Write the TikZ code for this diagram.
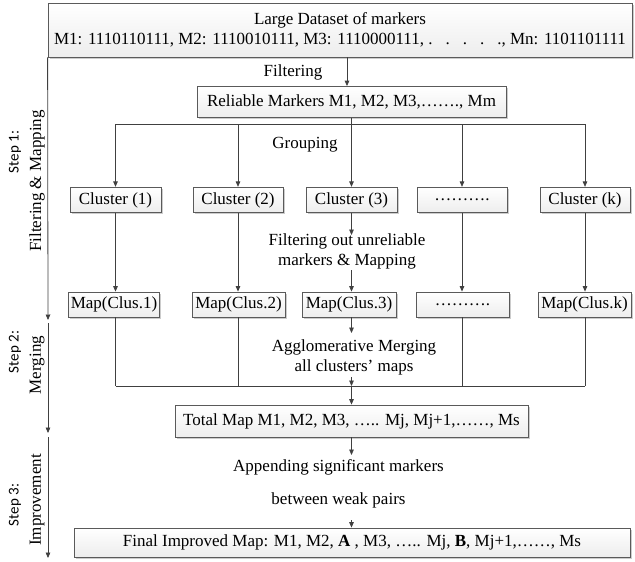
\documentclass[tikz,border=0pt]{standalone}
\usepackage{fontspec}
\setmainfont{Liberation Serif}
\newfontfamily\stepfamily{Carlito}
\usetikzlibrary{arrows.meta,shadows}
\definecolor{lncol}{HTML}{404040}
\definecolor{bdcol}{HTML}{5A5A5A}
\newcommand{\dgfs}{\fontsize{17}{20.5}\selectfont}
\newcommand{\stfs}{\stepfamily\fontsize{15}{18}\selectfont}
\newcommand{\dgdots}{.\hspace{13pt}}
\begin{document}
\begin{tikzpicture}[x=1pt,y=-1pt,
  box/.style={draw=bdcol, line width=0.8pt, top color=white, bottom color=gray!14,
    drop shadow={shadow xshift=1.6pt,shadow yshift=-1.6pt,fill=black!40,opacity=0.5},
    inner sep=0pt, font=\dgfs, text=black, align=center},
  lbl/.style={font=\dgfs, inner sep=0pt, align=center, text=black},
  steplbl/.style={font=\stfs, inner sep=0pt, rotate=90, text=black},
  steptxt/.style={font=\dgfs, inner sep=0pt, rotate=90, text=black},
  conn/.style={draw=lncol, line width=0.8pt},
  arr/.style={conn, -{Triangle[length=5.5pt,width=4.6pt]}},
]
\useasboundingbox (0,0) rectangle (635,562);

% boxes
\node[box, minimum width=584pt, minimum height=54pt] (top) at (340,30)
  {Large Dataset of markers\\M1: 1110110111, M2: 1110010111, M3: 1110000111,\ \dgdots\dgdots\dgdots\dgdots., Mn: 1101101111};
\node[box, minimum width=309pt, minimum height=31pt] (rel) at (351.5,102)
  {Reliable Markers M1, M2, M3,……., Mm};

\node[box, minimum width=91pt, minimum height=25.5pt] (c1) at (115.5,200) {Cluster (1)};
\node[box, minimum width=90pt, minimum height=25.5pt] (c2) at (238,200) {Cluster (2)};
\node[box, minimum width=91pt, minimum height=25.5pt] (c3) at (351.5,200) {Cluster (3)};
\node[box, minimum width=90pt, minimum height=25.5pt] (cd) at (462,200) {……….};
\node[box, minimum width=90pt, minimum height=25.5pt] (ck) at (585,200) {Cluster (k)};

\node[box, minimum width=91pt, minimum height=25pt] (m1) at (114,304.5) {Map(Clus.1)};
\node[box, minimum width=93pt, minimum height=25pt] (m2) at (238.5,304.5) {Map(Clus.2)};
\node[box, minimum width=94pt, minimum height=25pt] (m3) at (349,304.5) {Map(Clus.3)};
\node[box, minimum width=93pt, minimum height=25pt] (md) at (462.5,304.5) {……….};
\node[box, minimum width=93pt, minimum height=25pt] (mk) at (584.5,304.5) {Map(Clus.k)};

\node[box, minimum width=353pt, minimum height=32pt] (tot) at (351.5,421)
  {Total Map M1, M2, M3, ….. Mj, Mj+1,……, Ms};
\node[box, minimum width=556pt, minimum height=29pt] (fin) at (352,542.5)
  {Final Improved Map: M1, M2, \textbf{A} , M3, ….. Mj, \textbf{B}, Mj+1,……, Ms};

% text labels
\node[lbl] (filt) at (293,72) {Filtering};
\node[lbl] (grp) at (305,145) {Grouping};
\node[lbl] (fo) at (347,251.5) {Filtering out unreliable\\markers \& Mapping};
\node[lbl] (agg) at (354,357.5) {Agglomerative Merging\\all clusters’ maps};
\node[lbl] (app1) at (338.5,467) {Appending significant markers};
\node[lbl] (app2) at (338.5,500) {between weak pairs};

% step labels
\node[steplbl] (st1) at (15,152) {Step 1:};
\node[steptxt] (sn1) at (37,181) {Filtering \& Mapping};
\node[steplbl] (st2) at (15,352) {Step 2:};
\node[steptxt] (sn2) at (37,365) {Merging};
\node[steplbl] (st3) at (15,505) {Step 3:};
\node[steptxt] (sn3) at (37,500) {Improvement};

% coordinates
\coordinate (busA) at (0,124);
\coordinate (busB) at (0,386);
\coordinate (foT) at (351.5,235);
\coordinate (foB) at (351.5,270);
\coordinate (agT) at (351.5,333);
\coordinate (agB) at (351.5,377);
\coordinate (apT) at (351.5,455);
\coordinate (apB) at (351.5,520);
\coordinate (s1e) at (48,320);
\coordinate (s2a) at (48,323);
\coordinate (s2e) at (48,433);
\coordinate (s3a) at (48,437);
\coordinate (s3e) at (48,558);

% connectors
\draw[arr] ([xshift=-4.5pt]rel.north |- top.south) -- ([xshift=-4.5pt]rel.north);
\draw[conn] (rel.south) -- (rel.south |- busA);
\draw[conn] (c1.north |- busA) -- (ck.north |- busA);
\foreach \c in {c1,c2,c3,cd,ck} \draw[arr] (\c.north |- busA) -- (\c.north);

\draw[arr] (c1.south) -- (c1.south |- m1.north);
\draw[arr] (c2.south) -- (c2.south |- m2.north);
\draw[arr] (cd.south) -- (cd.south |- md.north);
\draw[arr] (ck.south) -- (ck.south |- mk.north);
\draw[arr] (c3.south) -- (foT);
\draw[arr] (foB) -- (foB |- m3.north);

\draw[conn] (c1.south |- m1.south) -- (c1.south |- busB);
\draw[conn] (c2.south |- m2.south) -- (c2.south |- busB);
\draw[conn] (cd.south |- md.south) -- (cd.south |- busB);
\draw[conn] (ck.south |- mk.south) -- (ck.south |- busB);
\draw[conn] (c1.south |- busB) -- (ck.south |- busB);
\draw[arr] (agT |- m3.south) -- (agT);
\draw[arr] (agB) -- (agB |- busB);
\draw[arr] (agB |- busB) -- (agB |- tot.north);

\draw[arr] (apT |- tot.south) -- (apT);
\draw[arr] (apB) -- (apB |- fin.north);

\draw[arr] (top.south west) -- (s1e);
\draw[arr] (s2a) -- (s2e);
\draw[arr] (s3a) -- (s3e);
\end{tikzpicture}
\end{document}
